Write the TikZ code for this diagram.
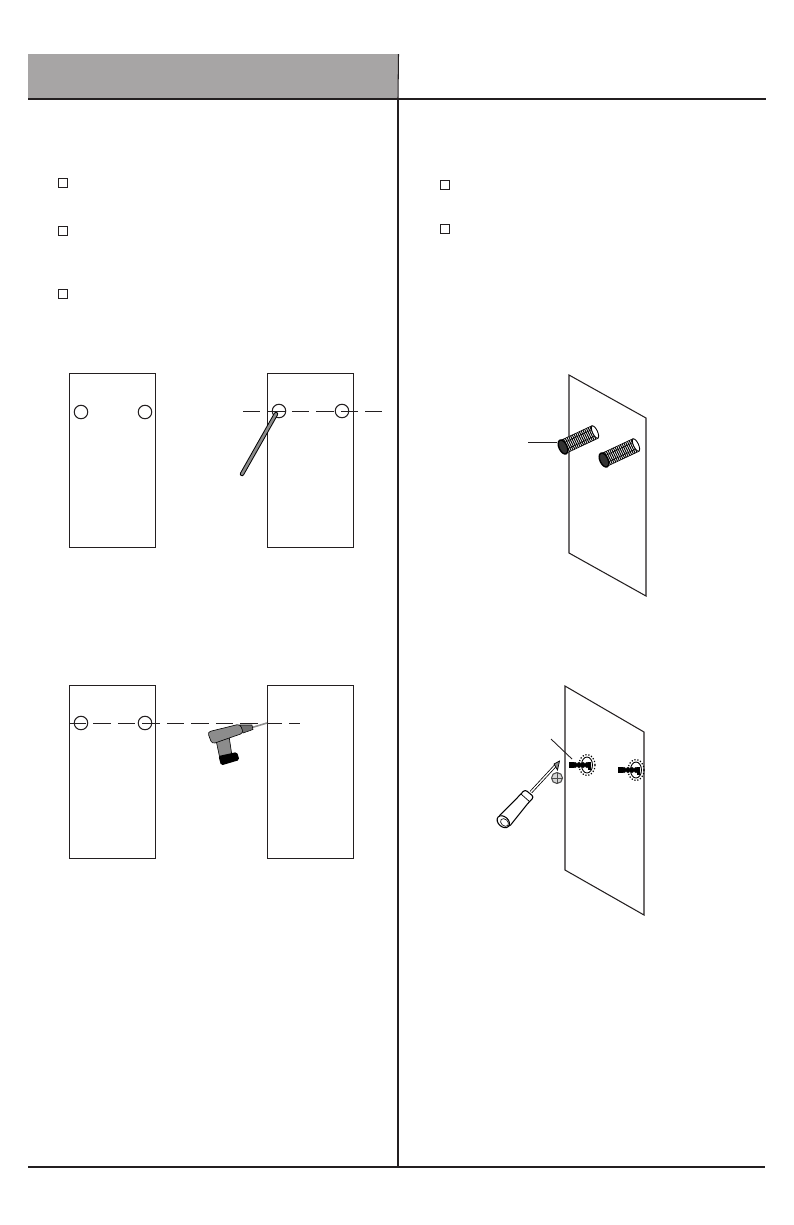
\documentclass[tikz,border=0pt]{standalone}
\usepackage{tikz}
\usetikzlibrary{shapes}
\usetikzlibrary{arrows}
\usetikzlibrary{positioning}
\definecolor{headgray}{HTML}{A7A5A5}
\definecolor{toolgray}{HTML}{8C8C8C}
\definecolor{rulecolor}{HTML}{231F20}
\tikzstyle{panel}=[rectangle,draw=rulecolor,line width=0.65pt,minimum width=1.72cm,minimum height=3.47cm,inner sep=0pt]
\tikzstyle{hole}=[circle,draw=rulecolor,line width=0.6pt,minimum size=0.27cm,inner sep=0pt]
\tikzstyle{tick}=[rectangle,draw=rulecolor,line width=0.65pt,minimum size=0.17cm,inner sep=0pt]
\tikzstyle{rulebar}=[draw=rulecolor,line width=1.13pt]
\tikzstyle{wall}=[draw=rulecolor,line width=0.6pt,line join=miter]
\tikzstyle{guide}=[draw=rulecolor,line width=0.65pt,dash pattern=on 0.35cm off 0.14cm]
\tikzstyle{leader}=[draw=rulecolor,line width=0.5pt]
\tikzstyle{fine}=[draw=black,line width=0.35pt]
% wall plug, front end at the given point
\newcommand{\wallplug}[2]{
\begin{scope}[shift={(#1,#2)}]
\filldraw[fine,fill=white] (-3,-6.3) -- (29,-21.3) -- (35,-8.7) -- (3,6.3) -- cycle;
\foreach \t in {0,0.055,...,0.95}{
\draw[black,line width=0.55pt] ({32*\t-3},{-15*\t-6.3}) -- ({32*\t+3},{-15*\t+6.3});
}
\draw[black,line width=0.35pt] (-1.5,-3.2) -- (30.5,-18.2);
\draw[black,line width=0.35pt] (1.5,3.2) -- (33.5,-11.8);
\draw[black,line width=0.5pt,fill=white] (32,-15) ellipse [x radius=.05cm,y radius=.135cm,rotate=25];
\draw[black,line width=0.8pt,fill=black!80] (0,0) ellipse [x radius=.08cm,y radius=.15cm,rotate=25];
\end{scope}
}
% screw in the wall with its toothed ring
\newcommand{\wallscrew}[2]{
\begin{scope}[shift={(#1,#2)}]
\draw[black,line width=0.7pt,densely dotted] (18,0) ellipse [x radius=.16cm,y radius=.21cm];
\draw[black,line width=0.5pt] (18,0) ellipse [x radius=.11cm,y radius=.16cm];
\fill[black] (0,-3) rectangle (5,3);
\foreach \t in {6,10,14,18}{
\fill[black] (\t,0) ellipse [x radius=.045cm,y radius=.06cm];
}
\fill[black] (19,-3) rectangle (22,5);
\end{scope}
}
\begin{document}
\begin{tikzpicture}[x=0.02cm,y=-0.02cm]
\useasboundingbox (0,0) rectangle (794,1225);
\fill[headgray] (28,54) rectangle (398,98);
%Left column frames
\node[panel] (upa) at (112.5,460.5) {};
\node[panel] (upb) at (310.5,460.5) {};
\node[panel] (downa) at (112.5,772) {};
\node[panel] (downb) at (310.5,772) {};
\node[hole] (h1) at (81,412) {};
\node[hole] (h2) at (145,412) {};
\node[hole] (h3) at (279,411) {};
\node[hole] (h4) at (342,411) {};
\node[hole] (h5) at (81,723) {};
\node[hole] (h6) at (145,723) {};
\node[tick] (c1) at (63,183) {};
\node[tick] (c2) at (63,231) {};
\node[tick] (c3) at (63,294) {};
\node[tick] (c4) at (445,185) {};
\node[tick] (c5) at (445,229) {};
%Rules
\coordinate (ruleL) at (28,99);
\coordinate (ruleR) at (766,99);
\coordinate (vtop) at (398.5,54);
\coordinate (vjoin) at (398,99);
\coordinate (vend) at (398,1167);
\coordinate (footL) at (28,1167);
\coordinate (footR) at (765,1167);
\draw[rulebar] (ruleL) -- (ruleR);
\draw[draw=rulecolor,line width=0.6pt] (vtop) -- (vjoin);
\draw[rulebar] (vjoin) -- (vend);
\draw[rulebar] (footL) -- (footR);
%Guide lines
\coordinate (g1) at (243,411.5);
\coordinate (g2) at (382,411.5);
\coordinate (g3) at (69,723.5);
\coordinate (g4) at (300,723.5);
\draw[guide] (g1) -- (g2);
\draw[guide] (g3) -- (g4);
%Pencil
\coordinate (p1) at (242,474);
\coordinate (p2) at (276,414);
\draw[black,line width=2.5pt,line cap=round] (p1) -- (p2);
\draw[toolgray,line width=1.4pt,line cap=round] (p1) -- (p2);
%Drill
\coordinate (bit) at (267,723);
\coordinate (chuck) at (252,727.5);
\draw[toolgray,line width=0.9pt] (chuck) -- (bit);
\filldraw[draw=black,line width=0.3pt,fill=toolgray!80!black] (240,725) -- (252,725) -- (253,729.5) -- (243,733) -- cycle;
\filldraw[draw=black,line width=0.35pt,fill=toolgray,rounded corners=1pt] (216,740) -- (229,736) -- (232,756) -- (220,759) -- cycle;
\filldraw[draw=black,line width=0.35pt,fill=toolgray,rounded corners=1.8pt] (207.5,732) -- (240,724) -- (243.5,733) -- (212,744) -- cycle;
\fill[black,rounded corners=1pt] (218.5,756) -- (237,752) -- (239.5,760) -- (221,765.5) -- cycle;
%Plugs
\draw[wall] (569,375) -- (646,418) -- (646,596) -- (569,553) -- cycle;
\wallplug{563}{447}
\wallplug{604}{460}
\coordinate (plugtag) at (528,442);
\coordinate (plugend) at (557,442);
\draw[leader] (plugtag) -- (plugend);
%Screws
\draw[wall] (565,686) -- (644,732) -- (644,915) -- (565,870) -- cycle;
\wallscrew{569}{765}
\wallscrew{618}{770}
\coordinate (screwtag) at (551,739);
\coordinate (screwend) at (572,759);
\draw[leader] (screwtag) -- (screwend);
%Screwdriver
\coordinate (tipA) at (556,765);
\coordinate (tipB) at (531,792);
\draw[black,line width=0.45pt,double=white,double distance=0.8pt] (tipA) -- (tipB);
\filldraw[draw=black,line width=0.4pt,fill=toolgray] (554,764) -- (559.5,761) -- (557.5,770) -- cycle;
\filldraw[draw=black,line width=0.6pt,fill=white,rounded corners=1.5pt] (498,817) -- (519,796) -- (525,789.5) -- (534,797) -- (529,802) -- (509,827) -- cycle;
\draw[black,line width=0.4pt] (521,794) -- (530,802);
\draw[black,line width=0.6pt,fill=white] (503.3,821.7) ellipse [x radius=.14cm,y radius=.1cm,rotate=-42];
\draw[black,line width=0.35pt,fill=white] (504.5,822.5) ellipse [x radius=.09cm,y radius=.065cm,rotate=-42];
%Screw head
\node[circle,draw=black!70,line width=0.6pt,fill=toolgray!35,minimum size=0.22cm,inner sep=0pt] (head) at (557,778) {};
\draw[black!70,line width=0.4pt] (head.north) -- (head.south);
\draw[black!70,line width=0.4pt] (head.east) -- (head.west);
\end{tikzpicture}
\end{document}
